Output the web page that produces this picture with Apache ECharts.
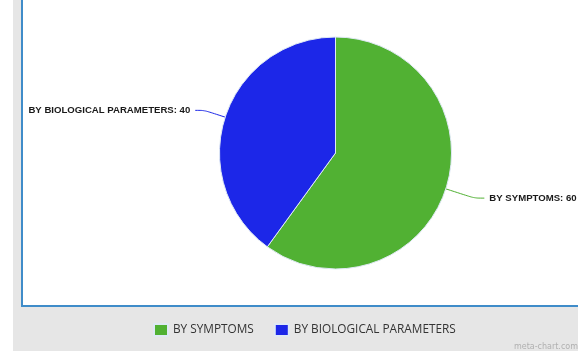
<!DOCTYPE html>
<html><head><meta charset="utf-8">
<script src="https://cdn.jsdelivr.net/npm/echarts@6/dist/echarts.min.js"></script>
<style>html,body{margin:0;padding:0;background:#fff}#c{width:578px;height:351px}</style>
</head><body><div id="c"></div>
<script>
const categories = ['BY SYMPTOMS', 'BY BIOLOGICAL PARAMETERS'];
const values = [60, 40];
const colors = ['#51b133', '#1c27e8'];

const lineLen = [[30, 10], [22, 9]];

const chart = echarts.init(document.getElementById('c'), null, {renderer: 'canvas'});
chart.setOption({
  animation: false,
  backgroundColor: '#ffffff',
  graphic: [
    {type: 'rect', z: -10, shape: {x: 13, y: 0, width: 565, height: 351}, style: {fill: '#e6e6e6'}},
    {type: 'rect', z: -9, shape: {x: 22, y: -5, width: 560, height: 311}, style: {fill: '#ffffff', stroke: '#3f8cc9', lineWidth: 2}},
    {type: 'text', right: 0, bottom: 0, style: {text: 'meta-chart.com', fill: '#b0b0b0', font: '8px "DejaVu Sans"'}}
  ],
  legend: {
    bottom: 9, left: 148,
    icon: 'rect', itemWidth: 14, itemHeight: 12, itemGap: 20,
    textStyle: {fontFamily: '"Open Sans", sans-serif', fontSize: 11.8, color: '#333'},
    data: categories
  },
  series: [{
    type: 'pie',
    left: 0, top: 0, right: -100, bottom: 0,
    center: [335.5, 153],
    radius: 116,
    startAngle: 90,
    clockwise: true,
    itemStyle: {borderColor: '#dfe9f5', borderWidth: 1},
    label: {
      show: true, position: 'outside', alignTo: 'none', overflow: 'none',
      formatter: '{b}: {c}',
      fontFamily: '"Liberation Sans", Arial, sans-serif', fontWeight: 'bold', fontSize: 9.6, color: '#1a1a1a',
      distanceToLabelLine: 5
    },
    labelLine: {show: true, smooth: 0.3, lineStyle: {width: 1}},
    data: categories.map((c, i) => ({
      name: c, value: values[i], itemStyle: {color: colors[i]},
      labelLine: {length: lineLen[i][0], length2: lineLen[i][1]}
    }))
  }]
});
</script></body></html>
